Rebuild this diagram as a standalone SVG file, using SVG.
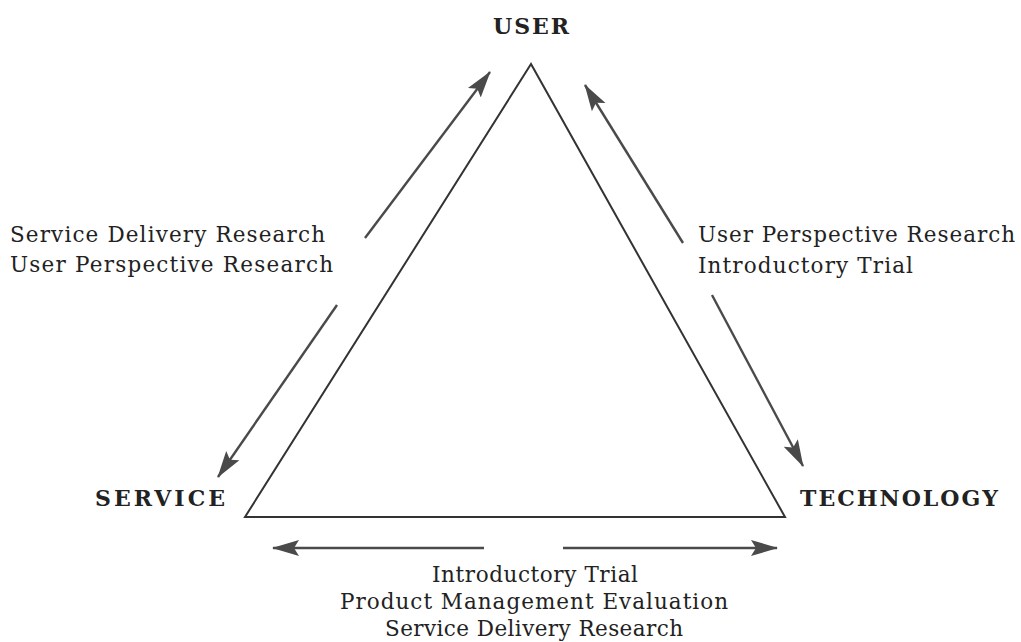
<svg xmlns="http://www.w3.org/2000/svg" width="1021" height="642" viewBox="0 0 1021 642">
<style>
.lbl{font-family:"DejaVu Serif","Liberation Serif",serif;font-size:21.5px;fill:#222}
.node{font-family:"DejaVu Serif","Liberation Serif",serif;font-size:22px;font-weight:bold;fill:#222}
.arr{stroke:#4a4a4a;stroke-width:2.4;fill:none;marker-end:url(#ah)}
</style>
<defs>
<marker id="ah" markerWidth="28" markerHeight="20" refX="26" refY="10" orient="auto" markerUnits="userSpaceOnUse">
<path d="M0,2 L27,10 L0,18 L5,10 Z" fill="#4a4a4a"/>
</marker>
</defs>
<rect width="1021" height="642" fill="#fff"/>
<g id="triangle">
<polygon points="531,64 245,517 785,517" fill="none" stroke="#333" stroke-width="2"/>
</g>
<g id="node-user"><text class="node" x="531" y="34" text-anchor="middle" textLength="76">USER</text></g>
<g id="node-service"><text class="node" x="95" y="506" textLength="130">SERVICE</text></g>
<g id="node-technology"><text class="node" x="800" y="506" textLength="198">TECHNOLOGY</text></g>
<g id="connectors">
<line class="arr" x1="365" y1="238" x2="490" y2="72"/>
<line class="arr" x1="337" y1="305" x2="218" y2="477"/>
<line class="arr" x1="683" y1="243" x2="585" y2="85"/>
<line class="arr" x1="712" y1="295" x2="803" y2="466"/>
<line class="arr" x1="484" y1="548" x2="273" y2="548"/>
<line class="arr" x1="563" y1="548" x2="777" y2="548"/>
</g>
<g id="label-left">
<text class="lbl" x="10" y="242" textLength="315">Service Delivery Research</text>
<text class="lbl" x="10" y="272" textLength="323">User Perspective Research</text>
</g>
<g id="label-right">
<text class="lbl" x="698" y="242" textLength="317">User Perspective Research</text>
<text class="lbl" x="698" y="273" textLength="215">Introductory Trial</text>
</g>
<g id="label-bottom">
<text class="lbl" x="432" y="582" textLength="206">Introductory Trial</text>
<text class="lbl" x="340" y="609" textLength="388">Product Management Evaluation</text>
<text class="lbl" x="385" y="636" textLength="298">Service Delivery Research</text>
</g>
</svg>
